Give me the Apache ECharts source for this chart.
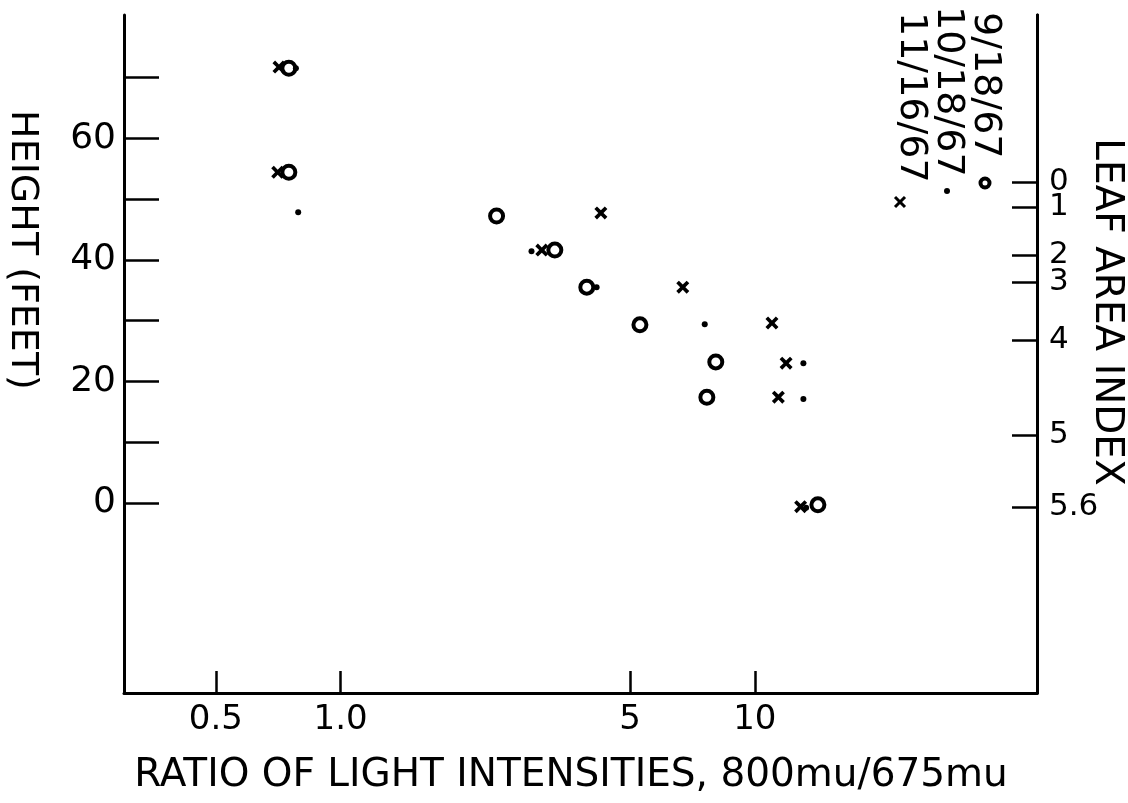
<!DOCTYPE html>
<html><head><meta charset="utf-8">
<script src="https://cdn.jsdelivr.net/npm/echarts@6/dist/echarts.min.js"></script>
<style>html,body{margin:0;padding:0;background:#fff}#c{width:1128px;height:803px}</style>
</head><body><div id="c"></div>
<script>
// ---- data ----
const seriesNames = ['9/18/67', '10/18/67', '11/16/67'];
const ratioSep  = [0.75, 0.75, 2.38, 3.29, 3.93, 5.28, 8.05, 7.66, 14.2];
const heightSep = [71.5, 54.4, 47.2, 41.6, 35.5, 29.3, 23.2, 17.4, -0.3];
const ratioOct  = [0.78, 0.79, 2.89, 4.15, 7.57, 13.1, 13.1, 13.3];
const heightOct = [71.5, 47.8, 41.4, 35.5, 29.4, 23.0, 17.1, -0.8];
const ratioNov  = [0.71, 0.705, 4.25, 3.06, 6.70, 11.0, 11.9, 11.4, 12.9];
const heightNov = [71.7, 54.4, 47.7, 41.6, 35.5, 29.6, 23.0, 17.4, -0.6];
const xTickValues = [0.5, 1, 5, 10];
const xTickLabels = ['0.5', '1.0', '5', '10'];
const heightTickValues = [0, 10, 20, 30, 40, 50, 60, 70];
const heightLabelValues = [0, 20, 40, 60];
// leaf area index ticks: height (ft) on the left scale where each LAI value sits
const laiTickHeights = [-0.7, 11.2, 26.8, 36.3, 40.8, 48.7, 52.8];
const laiTickLabels = ['5.6', '5', '4', '3', '2', '1', '0'];
const xTitle = 'RATIO OF LIGHT INTENSITIES, 800mu/675mu';
const yTitle = 'HEIGHT (FEET)';
const y2Title = 'LEAF AREA INDEX';

// ---- chart ----
const FONT = '"DejaVu Sans", sans-serif';
const pairs = (xs, ys) => xs.map((x, i) => [x, ys[i]]);
const crossPath = 'path://M0,2 L2,0 L5,3 L8,0 L10,2 L7,5 L10,8 L8,10 L5,7 L2,10 L0,8 L3,5 Z';
const H_MIN = -31.25, H_MAX = 80.26;
const axisLine = { show: true, onZero: false, lineStyle: { color: '#000', width: 3 } };
const laiLabelFor = v => { let b = 0, d = Infinity; laiTickHeights.forEach((t, i) => { const e = Math.abs(t - v); if (e < d) { d = e; b = i; } }); return laiTickLabels[b]; };
// split the closely spaced LAI ticks over two overlaid right axes so none get hidden
const laiAxis = (vals) => ({
  type: 'value', min: H_MIN, max: H_MAX, position: 'right', offset: 0,
  axisLine: axisLine,
  axisTick: { show: true, inside: true, length: 25, customValues: vals, lineStyle: { color: '#000', width: 2.5 } },
  axisLabel: { show: true, customValues: vals, margin: 12, color: '#000', fontFamily: FONT, fontSize: 31,
    hideOverlap: false, showMinLabel: true, showMaxLabel: true, formatter: laiLabelFor },
  splitLine: { show: false }
});

const chart = echarts.init(document.getElementById('c'), null, { renderer: 'canvas' });
chart.setOption({
  backgroundColor: '#fff',
  animation: false,
  grid: { left: 124, right: 91, top: 15, bottom: 110, containLabel: false },
  xAxis: {
    type: 'log', logBase: 10, min: 0.3, max: 48,
    axisLine: axisLine,
    axisTick: { show: true, inside: true, length: 22, customValues: xTickValues, lineStyle: { color: '#000', width: 2.5 } },
    minorTick: { show: false },
    axisLabel: {
      show: true, customValues: xTickValues, margin: 10, color: '#000', fontFamily: FONT, fontSize: 34,
      hideOverlap: false, showMinLabel: true, showMaxLabel: true,
      formatter: v => { let b = 0, d = Infinity; xTickValues.forEach((t, i) => { const e = Math.abs(Math.log10(t) - Math.log10(v)); if (e < d) { d = e; b = i; } }); return xTickLabels[b]; }
    },
    splitLine: { show: false }, minorSplitLine: { show: false }
  },
  yAxis: [{
    type: 'value', min: H_MIN, max: H_MAX, position: 'left',
    axisLine: axisLine,
    axisTick: { show: true, inside: true, length: 35, customValues: heightTickValues, lineStyle: { color: '#000', width: 2.5 } },
    axisLabel: { show: true, customValues: heightLabelValues, margin: 8, color: '#000', fontFamily: FONT, fontSize: 36,
      hideOverlap: false, showMinLabel: true, showMaxLabel: true },
    splitLine: { show: false }
  },
    laiAxis(laiTickHeights.filter((v, i) => i % 2 === 0)),
    laiAxis(laiTickHeights.filter((v, i) => i % 2 === 1))
  ],
  series: [
    { name: seriesNames[0], type: 'scatter', data: pairs(ratioSep, heightSep), symbol: 'circle', symbolSize: 13,
      itemStyle: { color: '#fff', borderColor: '#000', borderWidth: 4, opacity: 1 }, z: 3 },
    { name: seriesNames[1], type: 'scatter', data: pairs(ratioOct, heightOct), symbol: 'circle', symbolSize: 6,
      itemStyle: { color: '#000', opacity: 1 }, z: 4 },
    { name: seriesNames[2], type: 'scatter', data: pairs(ratioNov, heightNov), symbol: crossPath, symbolSize: 13,
      itemStyle: { color: '#000', opacity: 1 }, z: 5 }
  ],
  graphic: [
    { type: 'text', x: 22, y: 250, rotation: -Math.PI / 2,
      style: { text: yTitle, font: '38px ' + FONT, fill: '#000', align: 'center', verticalAlign: 'middle' } },
    { type: 'text', x: 1106, y: 312, rotation: -Math.PI / 2,
      style: { text: y2Title, font: '39px ' + FONT, fill: '#000', align: 'center', verticalAlign: 'middle' } },
    { type: 'text', x: 571, y: 776,
      style: { text: xTitle, font: '39px ' + FONT, fill: '#000', align: 'center', verticalAlign: 'middle' } },
    // legend (rotated like the original)
    { type: 'text', x: 985, y: 12, rotation: -Math.PI / 2,
      style: { text: seriesNames[0], font: '38px ' + FONT, fill: '#000', align: 'left', verticalAlign: 'middle' } },
    { type: 'text', x: 948, y: 6, rotation: -Math.PI / 2,
      style: { text: seriesNames[1], font: '38px ' + FONT, fill: '#000', align: 'left', verticalAlign: 'middle' } },
    { type: 'text', x: 911, y: 12, rotation: -Math.PI / 2,
      style: { text: seriesNames[2], font: '38px ' + FONT, fill: '#000', align: 'left', verticalAlign: 'middle' } },
    { type: 'circle', shape: { cx: 985, cy: 183, r: 4.5 }, style: { fill: '#fff', stroke: '#000', lineWidth: 4 } },
    { type: 'circle', shape: { cx: 947, cy: 191, r: 3 }, style: { fill: '#000' } },
    { type: 'line', shape: { x1: 895, y1: 197, x2: 905, y2: 207 }, style: { stroke: '#000', lineWidth: 3 } },
    { type: 'line', shape: { x1: 905, y1: 197, x2: 895, y2: 207 }, style: { stroke: '#000', lineWidth: 3 } }
  ]
});
</script>
</body></html>
